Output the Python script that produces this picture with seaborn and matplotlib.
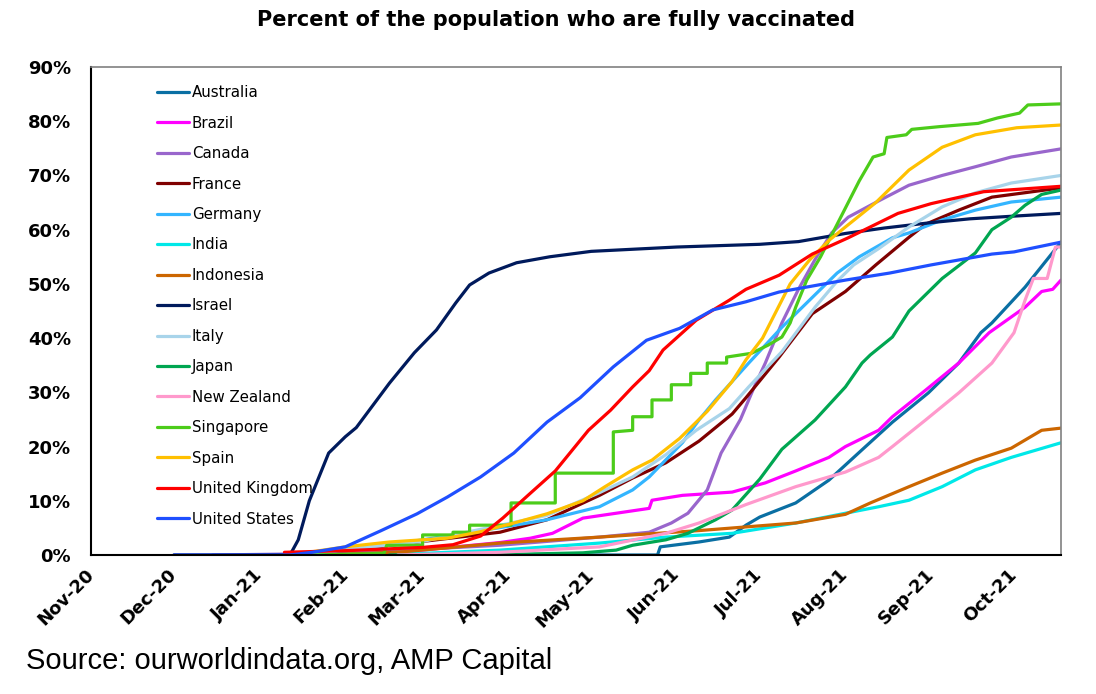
import pandas as pd
import matplotlib
matplotlib.use("Agg")
import matplotlib.pyplot as plt
import matplotlib.ticker as mticker
import seaborn as sns

# Percent of population fully vaccinated (date, %)
australia_dates = ["2021-02-22", "2021-05-25", "2021-05-26", "2021-06-09", "2021-06-20", "2021-06-26",
                   "2021-07-01", "2021-07-14", "2021-07-26", "2021-08-07", "2021-08-18", "2021-08-31",
                   "2021-09-11", "2021-09-19", "2021-09-23", "2021-10-05", "2021-10-18"]
australia_pct = [0, 0, 1.5, 2.4, 3.3, 5.5, 7.0, 9.6, 13.8, 19.4, 24.5, 29.9, 35.4, 41.0, 42.8, 49.4, 57.7]

brazil_dates = ["2021-01-20", "2021-02-15", "2021-03-01", "2021-03-29", "2021-04-09", "2021-04-17",
                "2021-04-28", "2021-05-10", "2021-05-22", "2021-05-23", "2021-06-03", "2021-06-21",
                "2021-07-03", "2021-07-14", "2021-07-26", "2021-08-01", "2021-08-13", "2021-08-18",
                "2021-08-30", "2021-09-11", "2021-09-22", "2021-10-05", "2021-10-11", "2021-10-15",
                "2021-10-18"]
brazil_pct = [0, 0.3, 0.9, 2.3, 3.1, 4.0, 6.8, 7.7, 8.6, 10.1, 11.0, 11.6, 13.3, 15.5, 18.0, 20.0,
              23.0, 25.5, 30.4, 35.4, 41.0, 45.7, 48.6, 49.0, 50.7]

canada_dates = ["2020-12-15", "2021-01-15", "2021-02-22", "2021-03-29", "2021-05-04", "2021-05-22",
                "2021-05-30", "2021-06-05", "2021-06-12", "2021-06-17", "2021-06-24", "2021-06-29",
                "2021-07-03", "2021-07-09", "2021-07-15", "2021-07-21", "2021-07-27", "2021-08-02",
                "2021-08-13", "2021-08-24", "2021-09-05", "2021-09-17", "2021-09-30", "2021-10-18"]
canada_pct = [0, 0.2, 0.9, 1.8, 3.3, 4.2, 5.9, 7.7, 12.0, 18.8, 25.0, 31.0, 35.4, 42.8, 49.0, 54.5,
              59.4, 62.3, 65.3, 68.2, 70.0, 71.6, 73.4, 74.9]

france_dates = ["2021-01-15", "2021-02-01", "2021-03-01", "2021-03-29", "2021-04-15", "2021-05-04",
                "2021-05-16", "2021-05-28", "2021-06-09", "2021-06-21", "2021-06-26", "2021-07-08",
                "2021-07-20", "2021-08-01", "2021-08-12", "2021-08-24", "2021-08-30", "2021-09-11",
                "2021-09-23", "2021-10-18"]
france_pct = [0, 0.8, 2.5, 4.2, 6.5, 11.0, 14.2, 17.0, 21.0, 26.0, 29.0, 36.5, 44.5, 48.6, 53.5,
              58.6, 61.0, 63.6, 66.0, 67.7]

germany_dates = ["2021-01-10", "2021-02-01", "2021-03-01", "2021-04-01", "2021-04-15", "2021-05-04",
                 "2021-05-16", "2021-05-22", "2021-06-03", "2021-06-09", "2021-06-15", "2021-06-21",
                 "2021-06-27", "2021-07-09", "2021-07-18", "2021-07-29", "2021-08-06", "2021-08-18",
                 "2021-08-24", "2021-09-05", "2021-09-17", "2021-09-30", "2021-10-18"]
germany_pct = [0, 0.8, 2.8, 5.3, 6.5, 8.9, 12.0, 14.4, 20.7, 24.9, 28.6, 32.0, 35.4, 42.0, 46.5,
               52.0, 55.0, 58.5, 59.4, 61.8, 63.6, 65.1, 66.0]

india_dates = ["2021-01-20", "2021-03-01", "2021-03-29", "2021-05-04", "2021-05-28", "2021-06-21",
               "2021-07-14", "2021-08-01", "2021-08-13", "2021-08-24", "2021-09-05", "2021-09-17",
               "2021-09-30", "2021-10-18"]
india_pct = [0, 0.3, 0.9, 2.2, 3.3, 4.0, 5.9, 7.7, 8.9, 10.1, 12.6, 15.7, 18.0, 20.7]

indonesia_dates = ["2021-01-25", "2021-02-22", "2021-03-29", "2021-05-04", "2021-06-09", "2021-07-14",
                   "2021-08-01", "2021-08-10", "2021-08-24", "2021-09-05", "2021-09-17", "2021-09-30",
                   "2021-10-11", "2021-10-18"]
indonesia_pct = [0, 0.6, 2.2, 3.3, 4.5, 5.9, 7.5, 9.6, 12.6, 15.1, 17.5, 19.7, 23.0, 23.4]

israel_dates = ["2020-12-01", "2021-01-12", "2021-01-15", "2021-01-19", "2021-01-26", "2021-02-01",
                "2021-02-05", "2021-02-17", "2021-02-26", "2021-03-06", "2021-03-13", "2021-03-18",
                "2021-03-25", "2021-04-04", "2021-04-16", "2021-05-01", "2021-06-01", "2021-07-01",
                "2021-07-15", "2021-08-01", "2021-08-15", "2021-09-01", "2021-09-15", "2021-10-01",
                "2021-10-18"]
israel_pct = [0, 0, 2.8, 10.0, 18.8, 21.8, 23.5, 31.7, 37.3, 41.5, 46.5, 49.8, 52.0, 53.9, 55.0,
              56.0, 56.8, 57.3, 57.8, 59.3, 60.3, 61.3, 62.0, 62.5, 63.0]

italy_dates = ["2021-01-15", "2021-02-01", "2021-03-01", "2021-04-01", "2021-04-15", "2021-05-04",
               "2021-05-16", "2021-05-28", "2021-06-08", "2021-06-20", "2021-06-27", "2021-07-09",
               "2021-07-21", "2021-07-29", "2021-08-04", "2021-08-13", "2021-08-24", "2021-09-05",
               "2021-09-17", "2021-09-30", "2021-10-18"]
italy_pct = [0, 1.0, 2.5, 5.8, 7.3, 11.5, 14.4, 18.5, 23.0, 27.0, 31.0, 37.5, 45.7, 50.5, 53.5,
             56.5, 60.5, 64.2, 66.8, 68.6, 70.0]

japan_dates = ["2021-02-17", "2021-04-01", "2021-04-28", "2021-05-10", "2021-05-16", "2021-05-28",
               "2021-06-05", "2021-06-15", "2021-06-21", "2021-07-01", "2021-07-09", "2021-07-21",
               "2021-08-01", "2021-08-07", "2021-08-10", "2021-08-18", "2021-08-24", "2021-09-05",
               "2021-09-17", "2021-09-23", "2021-09-30", "2021-10-05", "2021-10-11", "2021-10-18"]
japan_pct = [0, 0.1, 0.4, 0.9, 1.8, 2.8, 4.0, 6.5, 8.3, 14.0, 19.5, 24.9, 31.0, 35.4, 36.9, 40.2,
             45.0, 51.0, 55.7, 60.0, 62.3, 64.5, 66.5, 67.3]

nz_dates = ["2021-02-20", "2021-03-29", "2021-05-04", "2021-05-28", "2021-06-09", "2021-06-26",
            "2021-07-14", "2021-08-01", "2021-08-13", "2021-08-18", "2021-08-30", "2021-09-11",
            "2021-09-23", "2021-10-01", "2021-10-05", "2021-10-08", "2021-10-13", "2021-10-16",
            "2021-10-18"]
nz_pct = [0, 0.5, 1.5, 4.0, 5.9, 9.3, 12.6, 15.3, 18.0, 20.0, 24.9, 29.9, 35.4, 41.0, 47.0, 51.0,
          51.0, 56.8, 56.8]

singapore_dates = ["2021-01-20", "2021-02-15", "2021-02-16", "2021-03-01", "2021-03-01", "2021-03-12",
                   "2021-03-12", "2021-03-18", "2021-03-18", "2021-04-02", "2021-04-02", "2021-04-18",
                   "2021-04-18", "2021-05-09", "2021-05-09", "2021-05-16", "2021-05-16", "2021-05-23",
                   "2021-05-23", "2021-05-30", "2021-05-30", "2021-06-06", "2021-06-06", "2021-06-12",
                   "2021-06-12", "2021-06-19", "2021-06-19", "2021-06-28", "2021-07-04", "2021-07-09",
                   "2021-07-12", "2021-07-14", "2021-07-18", "2021-07-23", "2021-07-28", "2021-08-02",
                   "2021-08-06", "2021-08-11", "2021-08-15", "2021-08-16", "2021-08-23", "2021-08-25",
                   "2021-09-04", "2021-09-18", "2021-09-25", "2021-10-03", "2021-10-06", "2021-10-18"]
singapore_pct = [0, 0.3, 1.8, 1.8, 3.7, 3.7, 4.2, 4.2, 5.5, 5.5, 9.6, 9.6, 15.1, 15.1, 22.7, 23.0,
                 25.5, 25.5, 28.6, 28.6, 31.4, 31.4, 33.5, 33.5, 35.4, 35.4, 36.5, 37.2, 38.7, 40.2,
                 42.8, 45.7, 50.7, 55.0, 60.0, 65.0, 69.0, 73.4, 74.0, 77.0, 77.5, 78.5, 79.0, 79.6,
                 80.6, 81.5, 83.0, 83.2]

spain_dates = ["2021-01-12", "2021-02-01", "2021-02-17", "2021-03-10", "2021-03-22", "2021-04-03",
               "2021-04-15", "2021-04-28", "2021-05-06", "2021-05-16", "2021-05-23", "2021-06-02",
               "2021-06-12", "2021-06-21", "2021-06-26", "2021-07-02", "2021-07-08", "2021-07-12",
               "2021-07-19", "2021-07-26", "2021-08-01", "2021-08-12", "2021-08-24", "2021-09-05",
               "2021-09-17", "2021-10-02", "2021-10-18"]
spain_pct = [0, 1.5, 2.4, 3.1, 4.3, 5.9, 7.6, 10.0, 12.6, 15.7, 17.5, 21.5, 26.5, 32.0, 36.0, 40.0,
             46.0, 50.0, 54.4, 58.0, 60.5, 65.0, 71.0, 75.2, 77.5, 78.8, 79.3]

uk_dates = ["2021-01-10", "2021-02-01", "2021-03-01", "2021-03-12", "2021-03-22", "2021-03-30",
            "2021-04-09", "2021-04-18", "2021-04-30", "2021-05-08", "2021-05-16", "2021-05-22",
            "2021-05-27", "2021-06-08", "2021-06-20", "2021-06-26", "2021-07-08", "2021-07-20",
            "2021-08-02", "2021-08-20", "2021-09-01", "2021-09-20", "2021-10-18"]
uk_pct = [0.5, 0.8, 1.4, 1.9, 3.5, 6.8, 11.4, 15.5, 23.0, 26.7, 31.0, 34.0, 37.8, 43.3, 47.0, 49.0,
          51.6, 55.5, 58.5, 63.0, 64.8, 67.0, 68.0]

us_dates = ["2020-12-01", "2021-01-12", "2021-01-20", "2021-02-01", "2021-02-14", "2021-02-27",
            "2021-03-10", "2021-03-22", "2021-04-03", "2021-04-15", "2021-04-27", "2021-05-09",
            "2021-05-21", "2021-06-02", "2021-06-14", "2021-06-26", "2021-07-08", "2021-08-01",
            "2021-08-17", "2021-09-01", "2021-09-23", "2021-10-01", "2021-10-18"]
us_pct = [0, 0, 0.5, 1.5, 4.5, 7.6, 10.7, 14.4, 18.8, 24.5, 29.0, 34.7, 39.6, 41.8, 45.2, 46.7,
          48.5, 50.7, 52.0, 53.5, 55.5, 55.9, 57.7]

countries = ["Australia", "Brazil", "Canada", "France", "Germany", "India", "Indonesia", "Israel",
             "Italy", "Japan", "New Zealand", "Singapore", "Spain", "United Kingdom", "United States"]
colors = ["#0a6fa3", "#ff00ff", "#9966cc", "#7f0000", "#33b5ff", "#00e8e8", "#cc6600", "#001a5c",
          "#a8d4ea", "#00a651", "#ff99cc", "#4ccc1a", "#ffc000", "#ff0000", "#1f4fff"]
tick_labels = ["Nov-20", "Dec-20", "Jan-21", "Feb-21", "Mar-21", "Apr-21", "May-21", "Jun-21",
               "Jul-21", "Aug-21", "Sep-21", "Oct-21"]

series = [
    (australia_dates, australia_pct), (brazil_dates, brazil_pct), (canada_dates, canada_pct),
    (france_dates, france_pct), (germany_dates, germany_pct), (india_dates, india_pct),
    (indonesia_dates, indonesia_pct), (israel_dates, israel_pct), (italy_dates, italy_pct),
    (japan_dates, japan_pct), (nz_dates, nz_pct), (singapore_dates, singapore_pct),
    (spain_dates, spain_pct), (uk_dates, uk_pct), (us_dates, us_pct),
]

frames = []
for name, (d, v) in zip(countries, series):
    frames.append(pd.DataFrame({"date": pd.to_datetime(d), "pct": v, "country": name}))
df = pd.concat(frames, ignore_index=True)

sns.set_style("white")
plt.rcParams["font.family"] = ["DejaVu Sans"]
plt.rcParams["text.color"] = "black"
plt.rcParams["xtick.color"] = "black"
plt.rcParams["ytick.color"] = "black"

fig = plt.figure(figsize=(10.96, 6.94), dpi=100)
ax = fig.add_axes([91 / 1096, 1 - 555 / 694, 970 / 1096, 488 / 694])

sns.lineplot(data=df, x="date", y="pct", hue="country", hue_order=countries,
             palette=dict(zip(countries, colors)), estimator=None, sort=False,
             linewidth=2.3, ax=ax)

ax.set_xlim(pd.Timestamp("2020-11-01"), pd.Timestamp("2021-10-18"))
ax.set_ylim(0, 90)
month_ticks = pd.date_range("2020-11-01", "2021-10-01", freq="MS")
ax.set_xticks(month_ticks)
ax.set_xticklabels(tick_labels, rotation=45, ha="right", va="center", rotation_mode="anchor",
                   fontsize=13, fontweight="bold")
ax.set_yticks(range(0, 91, 10))
ax.yaxis.set_major_formatter(mticker.FuncFormatter(lambda v, p: f"{v:.0f}%"))
for lab in ax.get_yticklabels():
    lab.set_fontsize(13)
    lab.set_fontweight("bold")
ax.tick_params(axis="both", direction="out", length=4.3, width=1, color="black")
ax.tick_params(axis="y", pad=10)
ax.tick_params(axis="x", pad=8)
ax.set_xlabel("")
ax.set_ylabel("")

for side in ["left", "bottom"]:
    ax.spines[side].set_color("black")
    ax.spines[side].set_linewidth(1.5)
for side in ["top", "right"]:
    ax.spines[side].set_color("#808080")
    ax.spines[side].set_linewidth(1.2)

leg = ax.legend(loc="upper left", bbox_to_anchor=(0.0615, 0.975), frameon=False,
                fontsize=10.8, handlelength=2.15, handletextpad=0.2, labelspacing=1.03,
                borderaxespad=0)
for t in leg.get_texts():
    t.set_color("black")

fig.text(556 / 1096, 1 - 20 / 694, "Percent of the population who are fully vaccinated",
         ha="center", va="center", fontsize=15, fontweight="bold")
fig.text(26 / 1096, 1 - 661 / 694, "Source: ourworldindata.org, AMP Capital",
         ha="left", va="center", fontsize=21, family=["Liberation Sans", "DejaVu Sans"])

fig.savefig("out.png", dpi=100)
